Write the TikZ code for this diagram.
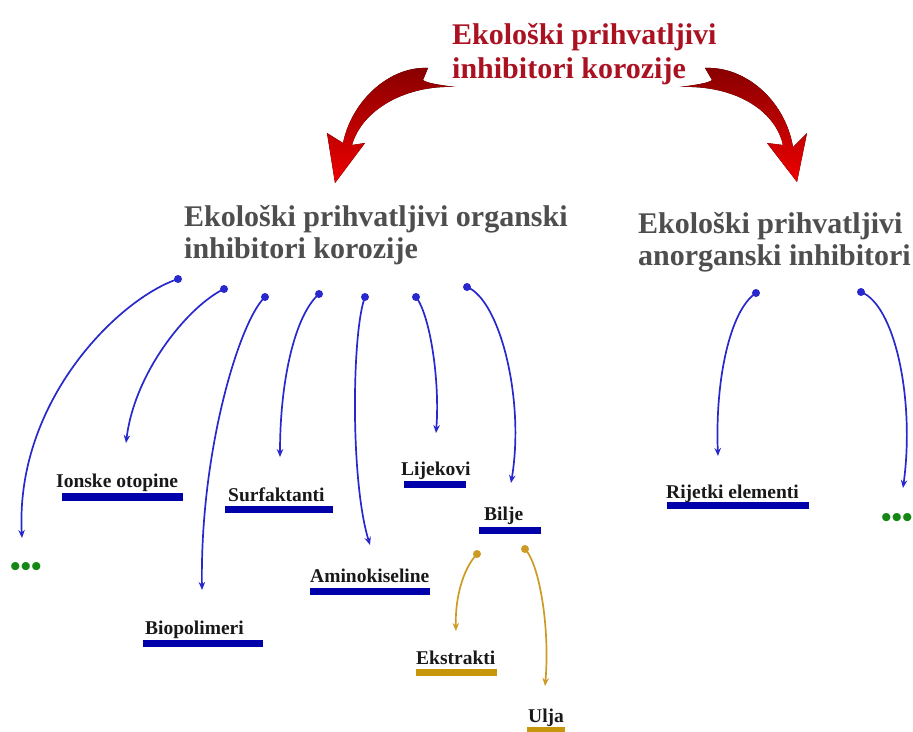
\documentclass[tikz,border=0pt]{standalone}
\usepackage{fontspec}
\setmainfont{Liberation Serif}
\usetikzlibrary{arrows.meta}
\definecolor{titlered}{RGB}{170,18,34}
\definecolor{headgrey}{RGB}{78,78,78}
\definecolor{linkblue}{RGB}{40,40,205}
\definecolor{barblue}{RGB}{0,0,170}
\definecolor{linkgold}{RGB}{205,155,35}
\definecolor{bargold}{RGB}{200,150,10}
\definecolor{dotgreen}{RGB}{20,135,20}
\definecolor{arrowdark}{RGB}{135,0,0}
\definecolor{arrowbright}{RGB}{238,0,0}
\tikzset{
  titletext/.style={font=\fontsize{30}{34}\selectfont\bfseries, align=left, inner sep=0pt, anchor=base west, text=titlered},
  headtext/.style={font=\fontsize{30}{31.5}\selectfont\bfseries, align=left, inner sep=0pt, anchor=base west, text=headgrey},
  lbl/.style={font=\fontsize{19.5}{22}\selectfont\bfseries, text=black!90, inner sep=0pt, anchor=base west},
  bluebar/.style={fill=barblue},
  goldbar/.style={fill=bargold},
  blueconn/.style={draw=linkblue, line width=1.7pt, -{Stealth[length=8pt,width=6.5pt]}},
  goldconn/.style={draw=linkgold, line width=1.7pt, -{Stealth[length=8pt,width=6.5pt]}},
  bluedot/.style={fill=linkblue},
  golddot/.style={fill=linkgold},
  moredots/.style={font=\fontsize{30}{30}\selectfont\bfseries, text=dotgreen, inner sep=0pt, anchor=base west},
  redarrow/.style={top color=arrowdark, bottom color=arrowbright, draw=none}
}
\begin{document}
\begin{tikzpicture}[x=1pt,y=-1pt]
\useasboundingbox (0,0) rectangle (913,731);

% title (anchor = baseline of last line)
\node[titletext] (title) at (452,78) {Ekološki prihvatljivi\\inhibitori korozije};

% red arrows
\fill[redarrow] (428,68) .. controls (390,66) and (352,100) .. (343,143)
  -- (327,133) -- (335,183) -- (365,143) -- (352,145)
  .. controls (362,110) and (405,85) .. (455,87)
  .. controls (440,85) and (426,83) .. (423,80) -- cycle;
\fill[redarrow] (705,68) .. controls (745,66) and (785,100) .. (793,147)
  -- (807,133) -- (797,182) -- (767,143) -- (783,145)
  .. controls (775,110) and (735,85) .. (680,87)
  .. controls (695,85) and (709,83) .. (712,80) -- cycle;

% headings
\node[headtext] (org) at (184,258) {Ekološki prihvatljivi organski\\inhibitori korozije};
\node[headtext] (anorg) at (638,265) {Ekološki prihvatljivi\\anorganski inhibitori};

% labels
\node[lbl] (ion) at (56,487) {Ionske otopine};
\node[lbl] (surf) at (228,501) {Surfaktanti};
\node[lbl] (lijek) at (401,475) {Lijekovi};
\node[lbl] (bilje) at (484,520) {Bilje};
\node[lbl] (amino) at (310,582) {Aminokiseline};
\node[lbl] (biopol) at (145,634) {Biopolimeri};
\node[lbl] (ekstr) at (416,664) {Ekstrakti};
\node[lbl] (ulja) at (528,722) {Ulja};
\node[lbl] (rijet) at (666,498) {Rijetki elementi};
\node[moredots] (more1) at (10,576) {•••};
\node[moredots] (more2) at (881,527) {•••};

% bars
\fill[bluebar] (62,493) rectangle (183,501);
\fill[bluebar] (225,506) rectangle (333,513);
\fill[bluebar] (404,481) rectangle (466,488);
\fill[bluebar] (479,527) rectangle (541,534);
\fill[bluebar] (310,588) rectangle (430,595);
\fill[bluebar] (143,640) rectangle (263,647);
\fill[goldbar] (416,669) rectangle (497,676);
\fill[goldbar] (527,727) rectangle (565,735);
\fill[bluebar] (667,502) rectangle (809,509);

% connector end points
\coordinate (s1) at (178,279); \coordinate (e1) at (22,538);
\coordinate (s2) at (224,289); \coordinate (e2) at (126,443);
\coordinate (s3) at (265,297); \coordinate (e3) at (202,590);
\coordinate (s4) at (319,294); \coordinate (e4) at (280,457);
\coordinate (s5) at (365,297); \coordinate (e5) at (370,545);
\coordinate (s6) at (416,297); \coordinate (e6) at (436,433);
\coordinate (s7) at (467,287); \coordinate (e7) at (511,483);
\coordinate (r1) at (756,293); \coordinate (f1) at (718,456);
\coordinate (r2) at (861,292); \coordinate (f2) at (903,488);
\coordinate (g1) at (477,554); \coordinate (h1) at (456,631);
\coordinate (g2) at (525,549); \coordinate (h2) at (545,686);

% blue connectors
\draw[blueconn] (s1) .. controls (120,298) and (15,400) .. (e1);
\draw[blueconn] (s2) .. controls (190,305) and (135,370) .. (e2);
\draw[blueconn] (s3) .. controls (240,320) and (200,450) .. (e3);
\draw[blueconn] (s4) .. controls (295,315) and (280,380) .. (e4);
\draw[blueconn] (s5) .. controls (352,330) and (350,480) .. (e5);
\draw[blueconn] (s6) .. controls (430,315) and (440,380) .. (e6);
\draw[blueconn] (s7) .. controls (500,300) and (525,400) .. (e7);
\draw[blueconn] (r1) .. controls (730,310) and (715,380) .. (f1);
\draw[blueconn] (r2) .. controls (895,305) and (915,400) .. (f2);
\draw[goldconn] (g1) .. controls (462,570) and (455,600) .. (h1);
\draw[goldconn] (g2) .. controls (540,565) and (550,630) .. (h2);

% dots at connector starts
\foreach \p in {s1,s2,s3,s4,s5,s6,s7,r1,r2} \fill[bluedot] (\p) circle (4);
\foreach \p in {g1,g2} \fill[golddot] (\p) circle (4);
\end{tikzpicture}
\end{document}
